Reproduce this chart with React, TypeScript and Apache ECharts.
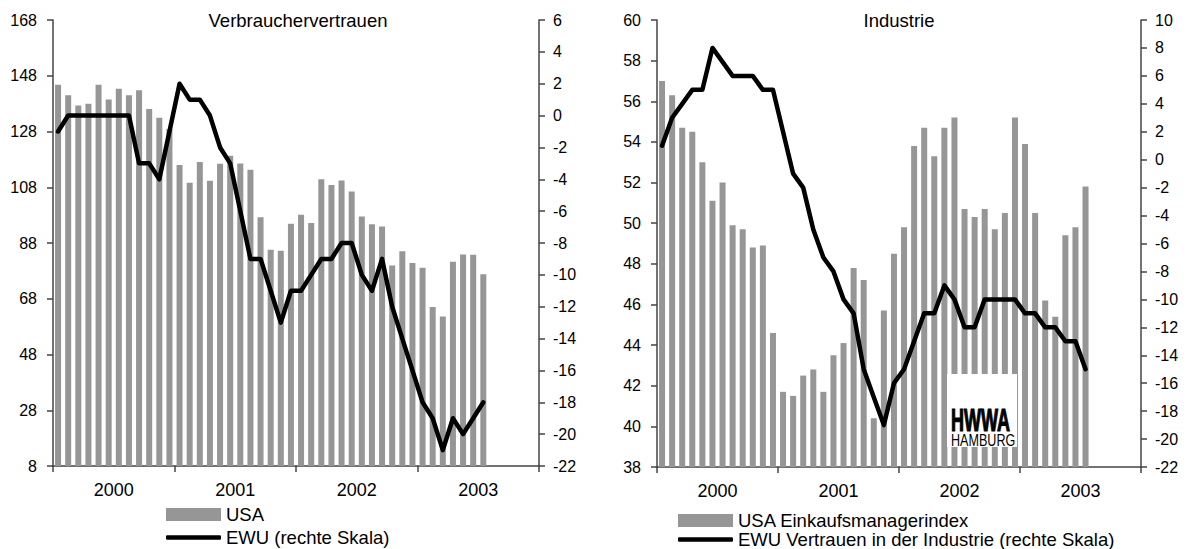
import React, { useEffect, useRef } from "react";
import * as echarts from "echarts";

const years = ["2000", "2001", "2002", "2003"];
const months: string[] = [];
years.forEach((y) => {
  for (let m = 1; m <= 12; m++) months.push(`${y}-${m < 10 ? "0" + m : m}`);
});

// Left chart: Verbrauchervertrauen
const usaConfidence = [
  144.8, 141.0, 137.3, 138.0, 144.8, 139.5, 143.3, 141.0, 142.8, 136.1, 132.9, 128.9,
  116.0, 109.6, 117.1, 110.3, 116.4, 119.3, 116.5, 114.3, 97.2, 85.6, 85.2, 94.9,
  98.1, 95.2, 110.9, 108.8, 110.4, 106.5, 97.5, 94.7, 93.9, 79.9, 85.0, 80.8,
  79.1, 65.0, 61.6, 81.3, 83.9, 83.8, 76.8,
];
const ewuConsumer = [
  -1, 0, 0, 0, 0, 0, 0, 0, -3, -3, -4, -1,
  2, 1, 1, 0, -2, -3, -6, -9, -9, -11, -13, -11,
  -11, -10, -9, -9, -8, -8, -10, -11, -9, -12, -14, -16,
  -18, -19, -21, -19, -20, -19, -18,
];
const leftAxisTicks = [8, 28, 48, 68, 88, 108, 128, 148, 168];

// Right chart: Industrie
const usaIsm = [
  57.0, 56.3, 54.7, 54.5, 53.0, 51.1, 52.0, 49.9, 49.7, 48.8, 48.9, 44.6,
  41.7, 41.5, 42.5, 42.8, 41.7, 43.5, 44.1, 47.8, 47.2, 40.4, 45.7, 48.5,
  49.8, 53.8, 54.7, 53.3, 54.7, 55.2, 50.7, 50.3, 50.7, 49.7, 50.5, 55.2,
  53.9, 50.5, 46.2, 45.4, 49.4, 49.8, 51.8,
];
const ewuIndustry = [
  1, 3, 4, 5, 5, 8, 7, 6, 6, 6, 5, 5,
  2, -1, -2, -5, -7, -8, -10, -11, -15, -17, -19, -16,
  -15, -13, -11, -11, -9, -10, -12, -12, -10, -10, -10, -10,
  -11, -11, -12, -12, -13, -13, -15,
];

const FONT = "Liberation Sans";
const AXIS_COLOR = "#444";
const BAR_COLOR = "#969696";

export default function App() {
  const ref = useRef<HTMLDivElement>(null);

  useEffect(() => {
    if (!ref.current) return;
    const chart = echarts.init(ref.current, undefined, { renderer: "svg" });

    const axisLabel = { color: "#000", fontFamily: FONT, fontSize: 16 };
    const axisLine = { show: true, lineStyle: { color: AXIS_COLOR, width: 1.5 } };
    const axisTick = { show: true, length: 6, lineStyle: { color: AXIS_COLOR, width: 1.5 } };

    const monthAxis = (gridIndex: number) => ({
      type: "category",
      gridIndex,
      data: months,
      boundaryGap: true,
      show: false,
    });
    const yearAxis = (gridIndex: number) => ({
      type: "category",
      gridIndex,
      data: years,
      boundaryGap: true,
      position: "bottom",
      axisLine,
      axisTick: { ...axisTick, alignWithLabel: false },
      axisLabel: { ...axisLabel, fontSize: 18, margin: 15 },
      splitLine: { show: false },
    });

    const legendBase = {
      orient: "horizontal",
      padding: 0,
      itemWidth: 55,
      itemHeight: 13,
      selectedMode: false,
      textStyle: { color: "#000", fontFamily: FONT, fontSize: 18.5, padding: [0, 0, 0, 0] },
    };
    const lineLegend = { ...legendBase, itemHeight: 4.5 };

    const textEl = (text: string, x: number, y: number, size: number) => ({
      type: "text",
      x,
      y,
      z: 100,
      style: {
        text,
        fill: "#000",
        fontFamily: FONT,
        fontSize: size,
        align: "center",
        textAlign: "center",
        verticalAlign: "middle",
        textVerticalAlign: "middle",
      },
    });

    const option: any = {
      animation: false,
      backgroundColor: "#fff",
      grid: [
        { left: 53, right: 654, top: 20, bottom: 83, containLabel: false },
        { left: 657, right: 52, top: 20, bottom: 82, containLabel: false },
      ],
      xAxis: [monthAxis(0), yearAxis(0), monthAxis(1), yearAxis(1)],
      yAxis: [
        {
          type: "value",
          gridIndex: 0,
          position: "left",
          min: 8,
          max: 168,
          axisLine,
          axisTick: { ...axisTick, customValues: leftAxisTicks },
          axisLabel: { ...axisLabel, margin: 16, customValues: leftAxisTicks },
          splitLine: { show: false },
        },
        {
          type: "value",
          gridIndex: 0,
          position: "right",
          min: -22,
          max: 6,
          interval: 2,
          axisLine,
          axisTick,
          axisLabel: { ...axisLabel, margin: 14 },
          splitLine: { show: false },
        },
        {
          type: "value",
          gridIndex: 1,
          position: "left",
          min: 38,
          max: 60,
          interval: 2,
          axisLine,
          axisTick,
          axisLabel: { ...axisLabel, margin: 16 },
          splitLine: { show: false },
        },
        {
          type: "value",
          gridIndex: 1,
          position: "right",
          min: -22,
          max: 10,
          interval: 2,
          axisLine,
          axisTick,
          axisLabel: { ...axisLabel, margin: 14 },
          splitLine: { show: false },
        },
      ],
      legend: [
        { ...legendBase, data: [{ name: "USA", icon: "rect" }], left: 166, top: 505 },
        { ...lineLegend, data: [{ name: "EWU (rechte Skala)", icon: "roundRect" }], left: 166, top: 528 },
        { ...legendBase, data: [{ name: "USA Einkaufsmanagerindex", icon: "rect" }], left: 678, top: 511 },
        {
          ...lineLegend,
          data: [{ name: "EWU Vertrauen in der Industrie (rechte Skala)", icon: "roundRect" }],
          left: 678,
          top: 530,
        },
      ],
      series: [
        {
          name: "USA",
          type: "bar",
          xAxisIndex: 0,
          yAxisIndex: 0,
          data: usaConfidence,
          barWidth: 6,
          itemStyle: { color: BAR_COLOR },
        },
        {
          name: "EWU (rechte Skala)",
          type: "line",
          xAxisIndex: 0,
          yAxisIndex: 1,
          data: ewuConsumer,
          symbol: "none",
          lineStyle: { color: "#000", width: 4.5, cap: "round", join: "round" },
          itemStyle: { color: "#000" },
          z: 5,
        },
        {
          name: "USA Einkaufsmanagerindex",
          type: "bar",
          xAxisIndex: 2,
          yAxisIndex: 2,
          data: usaIsm,
          barWidth: 6,
          itemStyle: { color: BAR_COLOR },
        },
        {
          name: "EWU Vertrauen in der Industrie (rechte Skala)",
          type: "line",
          xAxisIndex: 2,
          yAxisIndex: 3,
          data: ewuIndustry,
          symbol: "none",
          lineStyle: { color: "#000", width: 4.5, cap: "round", join: "round" },
          itemStyle: { color: "#000" },
          z: 5,
        },
      ],
      graphic: [
        textEl("Verbrauchervertrauen", 298, 20, 18.5),
        textEl("Industrie", 899, 20, 18.5),
        {
          type: "rect",
          z: 90,
          shape: { x: 947, y: 374, width: 70, height: 73 },
          style: { fill: "#fff" },
        },
        {
          type: "text",
          x: 951,
          y: 404,
          scaleX: 0.58,
          z: 100,
          style: {
            text: "HWWA",
            fill: "#000",
            fontFamily: FONT,
            fontSize: 31,
            fontWeight: "bold",
            stroke: "#000",
            lineWidth: 1.2,
            align: "left",
            textAlign: "left",
            verticalAlign: "top",
            textVerticalAlign: "top",
          },
        },
        {
          type: "text",
          x: 951,
          y: 431,
          scaleX: 0.74,
          z: 100,
          style: {
            text: "HAMBURG",
            fill: "#000",
            fontFamily: FONT,
            fontSize: 17,
            align: "left",
            textAlign: "left",
            verticalAlign: "top",
            textVerticalAlign: "top",
          },
        },
      ],
    };

    chart.setOption(option);
    return () => chart.dispose();
  }, []);

  return (
    <div
      ref={ref}
      style={{ position: "fixed", left: 0, top: 0, width: 1193, height: 549, background: "#fff" }}
    />
  );
}
